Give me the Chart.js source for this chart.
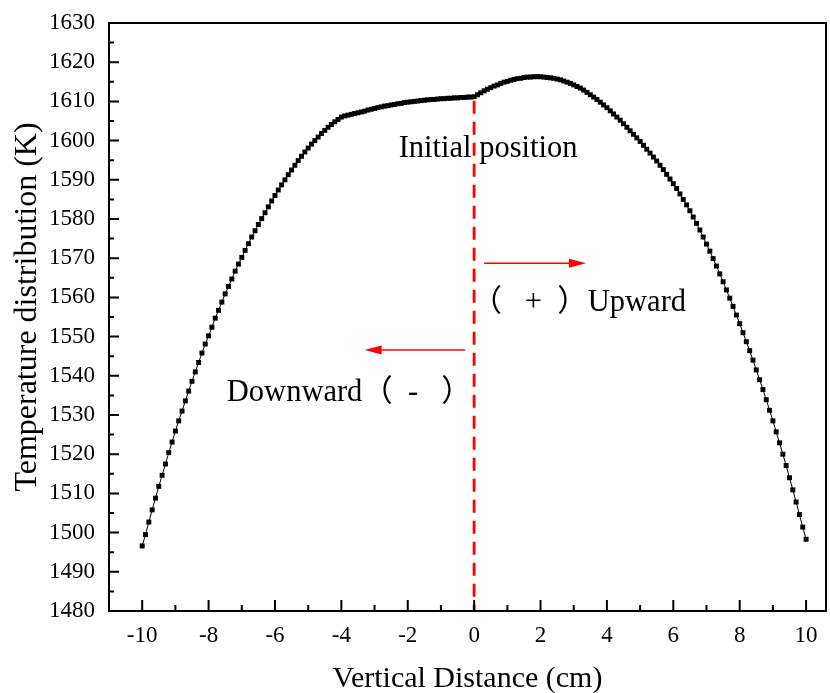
<!DOCTYPE html>
<html>
<head>
<meta charset="utf-8">
<script src="https://cdn.jsdelivr.net/npm/chart.js@4/dist/chart.umd.min.js"></script>
<style>
  html, body { margin: 0; padding: 0; background: #fff; }
  #wrap { width: 830px; height: 693px; }
</style>
</head>
<body>
<div id="wrap"><canvas id="chart" width="830" height="693"></canvas></div>
<script>
// sample positions along the vertical axis of the furnace (cm)
const distance = [
  -10, -9.9, -9.8, -9.7, -9.6, -9.5, -9.4, -9.3, -9.2, -9.1,
  -9, -8.9, -8.8, -8.7, -8.6, -8.5, -8.4, -8.3, -8.2, -8.1,
  -8, -7.9, -7.8, -7.7, -7.6, -7.5, -7.4, -7.3, -7.2, -7.1,
  -7, -6.9, -6.8, -6.7, -6.6, -6.5, -6.4, -6.3, -6.2, -6.1,
  -6, -5.9, -5.8, -5.7, -5.6, -5.5, -5.4, -5.3, -5.2, -5.1,
  -5, -4.9, -4.8, -4.7, -4.6, -4.5, -4.4, -4.3, -4.2, -4.1,
  -4, -3.9, -3.8, -3.7, -3.6, -3.5, -3.4, -3.3, -3.2, -3.1,
  -3, -2.9, -2.8, -2.7, -2.6, -2.5, -2.4, -2.3, -2.2, -2.1,
  -2, -1.9, -1.8, -1.7, -1.6, -1.5, -1.4, -1.3, -1.2, -1.1,
  -1, -0.9, -0.8, -0.7, -0.6, -0.5, -0.4, -0.3, -0.2, -0.1,
  0, 0.1, 0.2, 0.3, 0.4, 0.5, 0.6, 0.7, 0.8, 0.9,
  1, 1.1, 1.2, 1.3, 1.4, 1.5, 1.6, 1.7, 1.8, 1.9,
  2, 2.1, 2.2, 2.3, 2.4, 2.5, 2.6, 2.7, 2.8, 2.9,
  3, 3.1, 3.2, 3.3, 3.4, 3.5, 3.6, 3.7, 3.8, 3.9,
  4, 4.1, 4.2, 4.3, 4.4, 4.5, 4.6, 4.7, 4.8, 4.9,
  5, 5.1, 5.2, 5.3, 5.4, 5.5, 5.6, 5.7, 5.8, 5.9,
  6, 6.1, 6.2, 6.3, 6.4, 6.5, 6.6, 6.7, 6.8, 6.9,
  7, 7.1, 7.2, 7.3, 7.4, 7.5, 7.6, 7.7, 7.8, 7.9,
  8, 8.1, 8.2, 8.3, 8.4, 8.5, 8.6, 8.7, 8.8, 8.9,
  9, 9.1, 9.2, 9.3, 9.4, 9.5, 9.6, 9.7, 9.8, 9.9,
  10
];

// temperature at each position (K)
const temperature = [
  1496.6, 1499.5, 1502.7, 1505.8, 1508.8, 1511.8, 1514.6, 1517.5, 1520.4, 1523.1,
  1525.9, 1528.5, 1531.0, 1533.6, 1536.1, 1538.6, 1541.0, 1543.4, 1545.8, 1548.1,
  1550.2, 1552.4, 1554.7, 1556.7, 1558.8, 1560.9, 1562.8, 1564.7, 1566.7, 1568.5,
  1570.2, 1572.0, 1573.7, 1575.4, 1577.0, 1578.6, 1580.1, 1581.6, 1583.1, 1584.6,
  1586.0, 1587.4, 1588.7, 1590.0, 1591.3, 1592.5, 1593.7, 1594.9, 1596.0, 1597.1,
  1598.1, 1599.1, 1600.0, 1600.9, 1601.8, 1602.6, 1603.4, 1604.1, 1604.8, 1605.4,
  1606.0, 1606.3, 1606.5, 1606.7, 1606.9, 1607.1, 1607.3, 1607.5, 1607.8, 1608.0,
  1608.2, 1608.4, 1608.6, 1608.8, 1608.9, 1609.1, 1609.2, 1609.4, 1609.5, 1609.7,
  1609.8, 1609.9, 1610.0, 1610.1, 1610.2, 1610.3, 1610.4, 1610.5, 1610.5, 1610.6,
  1610.7, 1610.7, 1610.8, 1610.8, 1610.9, 1610.9, 1611.0, 1611.0, 1611.1, 1611.1,
  1611.2, 1611.7, 1612.2, 1612.7, 1613.1, 1613.5, 1613.9, 1614.2, 1614.6, 1614.9,
  1615.1, 1615.4, 1615.6, 1615.8, 1615.9, 1616.1, 1616.2, 1616.2, 1616.3, 1616.3,
  1616.3, 1616.2, 1616.1, 1616.0, 1615.9, 1615.7, 1615.5, 1615.2, 1614.9, 1614.6,
  1614.2, 1613.8, 1613.4, 1612.9, 1612.3, 1611.7, 1611.1, 1610.5, 1609.8, 1609.1,
  1608.4, 1607.6, 1606.8, 1606.0, 1605.2, 1604.3, 1603.4, 1602.5, 1601.6, 1600.7,
  1599.8, 1598.8, 1597.8, 1596.8, 1595.8, 1594.8, 1593.7, 1592.6, 1591.4, 1590.2,
  1589.0, 1587.8, 1586.4, 1585.0, 1583.6, 1582.1, 1580.5, 1578.9, 1577.2, 1575.4,
  1573.6, 1571.8, 1569.9, 1568.0, 1566.0, 1564.0, 1561.9, 1559.8, 1557.7, 1555.5,
  1553.3, 1551.0, 1548.7, 1546.4, 1544.0, 1541.5, 1539.0, 1536.5, 1533.9, 1531.2,
  1528.5, 1525.7, 1522.9, 1520.0, 1517.1, 1514.0, 1510.9, 1507.8, 1504.6, 1501.4,
  1498.3
];

// axis ticks
const xMajor = [-10, -8, -6, -4, -2, 0, 2, 4, 6, 8, 10];
const xMinor = [-9, -7, -5, -3, -1, 1, 3, 5, 7, 9];
const yMajor = [1480, 1490, 1500, 1510, 1520, 1530, 1540, 1550, 1560, 1570, 1580, 1590, 1600, 1610, 1620, 1630];
const yMinor = [1485, 1495, 1505, 1515, 1525, 1535, 1545, 1555, 1565, 1575, 1585, 1595, 1605, 1615, 1625];

// annotation anchors: [x, y] in data units
const initialLabel = "Initial position";
const upLabel = "（   +  ）Upward";
const downLabel = "Downward（  -   ）";
const upArrow = [[0.3, 1568.7], [3.37, 1568.7]];
const downArrow = [[-0.27, 1546.6], [-3.3, 1546.6]];
const initialPos = [0.42, 1597.8];
const upPos = [-0.08, 1558.7];
const downPos = [-7.45, 1535.7];

const serif = '"Liberation Serif", "Times New Roman", "Noto Sans CJK SC", serif';

function arrow(ctx, x1, y1, x2, y2) {
  const dir = Math.sign(x2 - x1);
  const head = 17;
  ctx.beginPath();
  ctx.moveTo(x1, y1);
  ctx.lineTo(x2 - dir * head, y2);
  ctx.stroke();
  ctx.beginPath();
  ctx.moveTo(x2, y2);
  ctx.lineTo(x2 - dir * head, y2 - 4.5);
  ctx.lineTo(x2 - dir * head, y2 + 4.5);
  ctx.closePath();
  ctx.fill();
}

// frame, inward ticks, dashed marker and labels
const decorations = {
  id: 'decorations',
  afterDatasetsDraw(chart) {
    const { ctx, chartArea: a, scales: { x, y } } = chart;
    ctx.save();

    // dashed line at the initial position
    const zx = x.getPixelForValue(0);
    const zy = y.getPixelForValue(temperature[distance.indexOf(0)]);
    ctx.strokeStyle = '#ff0000';
    ctx.lineWidth = 2.8;
    ctx.setLineDash([13, 8]);
    ctx.beginPath();
    ctx.moveTo(zx, zy + 4);
    ctx.lineTo(zx, a.bottom);
    ctx.stroke();
    ctx.setLineDash([]);

    // direction arrows
    ctx.lineWidth = 1.6;
    ctx.fillStyle = '#ff0000';
    [upArrow, downArrow].forEach(ar => {
      arrow(ctx,
        x.getPixelForValue(ar[0][0]), y.getPixelForValue(ar[0][1]),
        x.getPixelForValue(ar[1][0]), y.getPixelForValue(ar[1][1]));
    });

    // text
    ctx.fillStyle = '#000';
    ctx.font = '30.5px ' + serif;
    ctx.textBaseline = 'middle';
    ctx.textAlign = 'center';
    ctx.fillText(initialLabel, x.getPixelForValue(initialPos[0]), y.getPixelForValue(initialPos[1]));
    ctx.textAlign = 'left';
    ctx.fillText(upLabel, x.getPixelForValue(upPos[0]), y.getPixelForValue(upPos[1]));
    ctx.fillText(downLabel, x.getPixelForValue(downPos[0]), y.getPixelForValue(downPos[1]));

    // y axis title, a little above the middle of the axis
    ctx.save();
    ctx.translate(28, (a.top + a.bottom) / 2 - 10);
    ctx.rotate(-Math.PI / 2);
    ctx.textAlign = 'center';
    ctx.font = '32px ' + serif;
    ctx.fillText('Temperature distribution (K)', 0, 0);
    ctx.restore();

    // box
    ctx.strokeStyle = '#000';
    ctx.lineWidth = 2;
    ctx.strokeRect(a.left, a.top, a.right - a.left, a.bottom - a.top);

    // ticks pointing inwards
    ctx.beginPath();
    xMajor.forEach(v => { const p = x.getPixelForValue(v); ctx.moveTo(p, a.bottom); ctx.lineTo(p, a.bottom - 11); });
    xMinor.forEach(v => { const p = x.getPixelForValue(v); ctx.moveTo(p, a.bottom); ctx.lineTo(p, a.bottom - 6); });
    yMajor.forEach(v => { const p = y.getPixelForValue(v); ctx.moveTo(a.left, p); ctx.lineTo(a.left + 10, p); });
    yMinor.forEach(v => { const p = y.getPixelForValue(v); ctx.moveTo(a.left, p); ctx.lineTo(a.left + 5, p); });
    ctx.stroke();
    ctx.restore();
  }
};

new Chart(document.getElementById('chart'), {
  type: 'line',
  data: {
    datasets: [{
      data: distance.map((d, i) => ({ x: d, y: temperature[i] })),
      borderColor: '#000',
      borderWidth: 1,
      pointStyle: 'rect',
      pointRadius: 3.5,
      pointBackgroundColor: '#000',
      pointBorderWidth: 0,
      tension: 0
    }]
  },
  options: {
    responsive: false,
    animation: false,
    layout: { padding: { top: 23, right: 2, bottom: 0, left: 0 } },
    plugins: { legend: { display: false }, tooltip: { enabled: false } },
    scales: {
      x: {
        type: 'linear',
        min: -11,
        max: 10.6,
        afterBuildTicks: s => { s.ticks = xMajor.map(v => ({ value: v })); },
        afterFit: s => { s.height = 82; },
        grid: { display: false, drawTicks: false },
        border: { display: false },
        ticks: { color: '#000', padding: 11, font: { family: serif, size: 23 } },
        title: {
          display: true,
          text: 'Vertical Distance (cm)',
          color: '#000',
          font: { family: serif, size: 30, lineHeight: 0.9 },
          padding: 0
        }
      },
      y: {
        min: 1480,
        max: 1630,
        afterBuildTicks: s => { s.ticks = yMajor.map(v => ({ value: v })); },
        afterFit: s => { s.width = 109; s.paddingTop = 0; s.paddingBottom = 0; },
        grid: { display: false, drawTicks: false },
        border: { display: false },
        ticks: {
          color: '#000',
          padding: 14,
          font: { family: serif, size: 23 },
          callback: v => String(v)
        }
      }
    }
  },
  plugins: [decorations]
});
</script>
</body>
</html>
